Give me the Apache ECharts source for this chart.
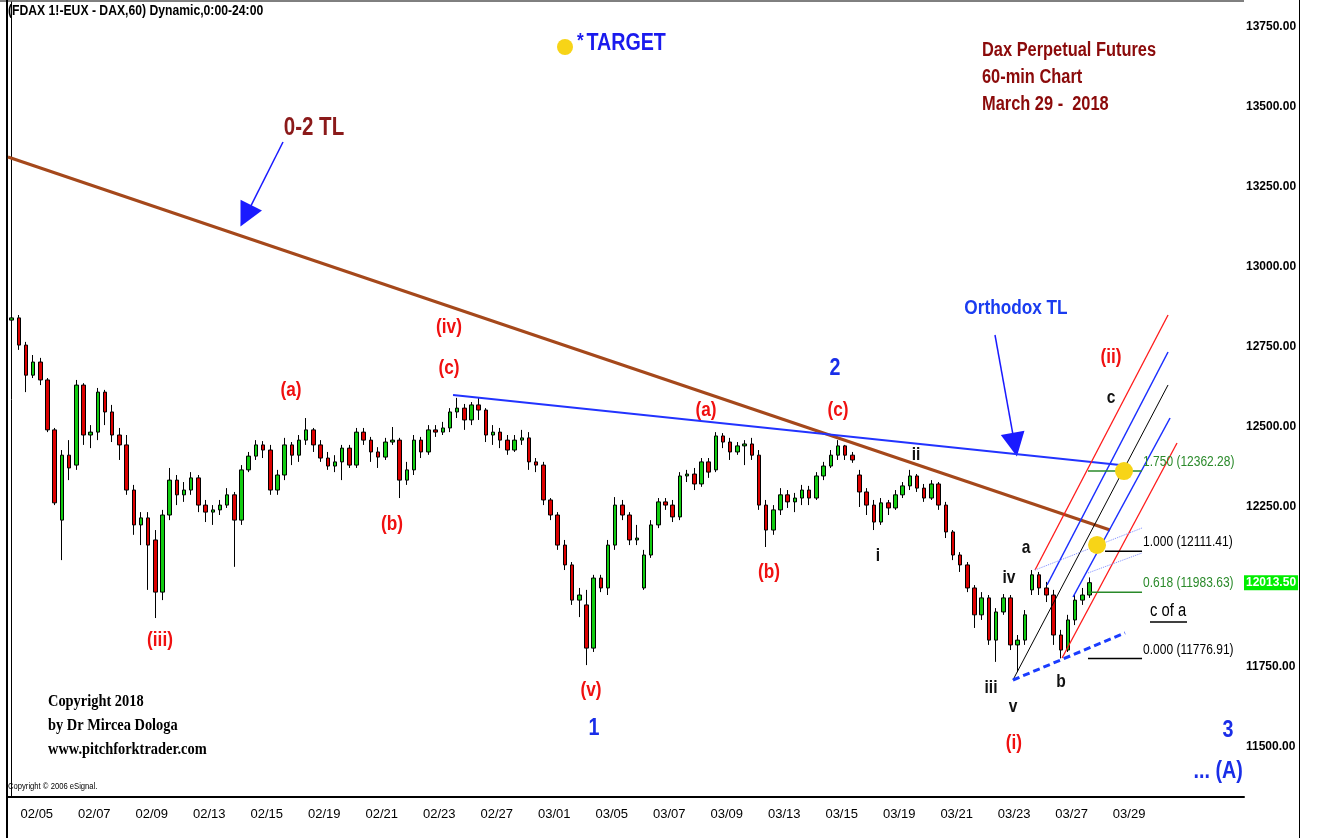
<!DOCTYPE html>
<html>
<head>
<meta charset="utf-8">
<script src="https://cdn.jsdelivr.net/npm/echarts@6.0.0/dist/echarts.min.js"></script>
<style>
  html, body { margin: 0; padding: 0; background: #fff; }
  #chart { width: 1319px; height: 838px; }
</style>
</head>
<body>
<div id="chart"></div>
<script>
  // trading days shown on the axis, 4 hourly blocks per day
  const tradingDays = ['02/02', '02/05', '02/06', '02/07', '02/08', '02/09', '02/12', '02/13', '02/14', '02/15', '02/16',
    '02/19', '02/20', '02/21', '02/22', '02/23', '02/26', '02/27', '02/28', '03/01', '03/02', '03/05', '03/06', '03/07',
    '03/08', '03/09', '03/12', '03/13', '03/14', '03/15', '03/16', '03/19', '03/20', '03/21', '03/22', '03/23', '03/26',
    '03/27', '03/28', '03/29', '04/03', '04/04', '04/05'];
  const barsPerDay = 4;
  const dateTicks = ['02/05', '02/07', '02/09', '02/13', '02/15', '02/19', '02/21', '02/23', '02/27', '03/01', '03/05',
    '03/07', '03/09', '03/13', '03/15', '03/19', '03/21', '03/23', '03/27', '03/29'];
  const priceTicks = [11500, 11750, 12000, 12250, 12500, 12750, 13000, 13250, 13500, 13750];
  const lastPrice = 12013.5;

  // [open, close, low, high]
  const candles = [
    [12834, 12841, 12803, 12881], [12841, 12756, 12741, 12850], [12756, 12662, 12609, 12766], [12662, 12703, 12653, 12725],
    [12703, 12647, 12631, 12716], [12647, 12491, 12484, 12653], [12491, 12263, 12256, 12497], [12209, 12412, 12084, 12428],
    [12412, 12372, 12334, 12459], [12381, 12631, 12366, 12647], [12631, 12475, 12444, 12637], [12475, 12484, 12434, 12506],
    [12484, 12609, 12459, 12622], [12609, 12547, 12506, 12616], [12547, 12475, 12453, 12569], [12475, 12444, 12397, 12497],
    [12444, 12303, 12288, 12475], [12303, 12194, 12163, 12319], [12194, 12216, 12131, 12234], [12216, 12131, 11991, 12234],
    [12147, 11984, 11903, 12178], [11984, 12225, 11959, 12241], [12225, 12334, 12209, 12372], [12334, 12288, 12256, 12350],
    [12288, 12303, 12266, 12328], [12303, 12341, 12288, 12359], [12341, 12256, 12234, 12350], [12256, 12234, 12203, 12272],
    [12234, 12241, 12194, 12256], [12241, 12256, 12225, 12272], [12256, 12288, 12247, 12309], [12288, 12209, 12063, 12297],
    [12209, 12366, 12194, 12381], [12366, 12409, 12359, 12422], [12409, 12444, 12397, 12459], [12444, 12428, 12403, 12456],
    [12428, 12303, 12288, 12444], [12303, 12350, 12288, 12366], [12350, 12444, 12334, 12466], [12444, 12412, 12381, 12453],
    [12412, 12459, 12391, 12475], [12459, 12491, 12444, 12528], [12491, 12444, 12422, 12497], [12444, 12403, 12391, 12459],
    [12403, 12378, 12366, 12422], [12378, 12391, 12359, 12412], [12391, 12434, 12334, 12444], [12434, 12381, 12372, 12444],
    [12381, 12484, 12372, 12497], [12484, 12459, 12444, 12497], [12459, 12422, 12391, 12469], [12422, 12406, 12372, 12437],
    [12406, 12453, 12397, 12466], [12453, 12459, 12444, 12500], [12459, 12334, 12278, 12466], [12334, 12366, 12319, 12391],
    [12366, 12459, 12350, 12475], [12459, 12422, 12403, 12469], [12422, 12491, 12413, 12506], [12491, 12484, 12469, 12506],
    [12484, 12497, 12475, 12516], [12497, 12547, 12484, 12559], [12547, 12559, 12528, 12591], [12559, 12522, 12491, 12572],
    [12522, 12569, 12506, 12578], [12569, 12553, 12522, 12591], [12553, 12475, 12453, 12559], [12475, 12484, 12444, 12506],
    [12484, 12459, 12434, 12497], [12459, 12428, 12413, 12475], [12428, 12459, 12422, 12475], [12459, 12466, 12444, 12491],
    [12466, 12391, 12366, 12484], [12391, 12381, 12359, 12403], [12381, 12272, 12256, 12391], [12272, 12225, 12209, 12278],
    [12225, 12131, 12116, 12234], [12131, 12069, 12053, 12147], [12069, 11959, 11944, 12078], [11959, 11975, 11906, 11997],
    [11944, 11809, 11756, 11991], [11809, 12028, 11797, 12038], [12028, 11997, 11984, 12038], [11997, 12131, 11975, 12147],
    [12131, 12256, 12116, 12281], [12256, 12225, 12209, 12272], [12225, 12147, 12131, 12234], [12147, 12153, 12131, 12194],
    [11997, 12100, 11991, 12116], [12100, 12194, 12091, 12209], [12194, 12266, 12184, 12278], [12266, 12256, 12241, 12278],
    [12256, 12219, 12203, 12272], [12219, 12347, 12209, 12359], [12347, 12353, 12328, 12366], [12353, 12322, 12303, 12372],
    [12322, 12391, 12313, 12403], [12391, 12359, 12341, 12403], [12366, 12472, 12359, 12484], [12472, 12453, 12434, 12481],
    [12453, 12422, 12397, 12466], [12422, 12441, 12413, 12453], [12441, 12447, 12381, 12459], [12447, 12412, 12397, 12466],
    [12412, 12256, 12241, 12428], [12256, 12178, 12125, 12272], [12178, 12241, 12163, 12256], [12241, 12288, 12225, 12309],
    [12288, 12266, 12247, 12303], [12266, 12278, 12234, 12294], [12278, 12303, 12256, 12319], [12303, 12278, 12256, 12316],
    [12278, 12347, 12272, 12359], [12347, 12378, 12334, 12391], [12378, 12412, 12372, 12428], [12412, 12441, 12397, 12459],
    [12441, 12412, 12397, 12444], [12412, 12397, 12388, 12422], [12350, 12297, 12250, 12366], [12297, 12256, 12225, 12309],
    [12256, 12203, 12178, 12272], [12203, 12263, 12194, 12278], [12263, 12247, 12225, 12272], [12247, 12288, 12241, 12303],
    [12288, 12316, 12278, 12328], [12316, 12347, 12303, 12366], [12347, 12309, 12297, 12353], [12309, 12278, 12266, 12322],
    [12278, 12322, 12272, 12334], [12322, 12256, 12241, 12328], [12256, 12172, 12153, 12266], [12172, 12100, 12084, 12178],
    [12100, 12069, 12047, 12109], [12069, 11997, 11984, 12078], [11997, 11913, 11872, 12006], [11913, 11966, 11897, 11984],
    [11966, 11834, 11819, 11975], [11834, 11922, 11766, 11934], [11922, 11966, 11913, 11978], [11966, 11819, 11803, 11975],
    [11819, 11834, 11734, 11850], [11834, 11913, 11819, 11928], [11991, 12038, 11975, 12053], [12038, 11997, 11975, 12047],
    [11997, 11975, 11953, 12016], [11975, 11850, 11819, 11991], [11850, 11803, 11777, 11866], [11803, 11897, 11797, 11913],
    [11897, 11959, 11881, 11975], [11959, 11975, 11944, 11997], [11975, 12013.5, 11966, 12030]
  ];

  // drawn lines, [bar position, price] ends
  const tl02 = [[-0.5, 13343.8], [152.86, 12178.1]];
  const orthodoxTl = [[61.43, 12600], [154.25, 12381.3]];
  const medianLine = [[139.35, 11709.4], [160.93, 12631.3]];
  const redUpper = [[142.42, 12053.1], [160.93, 12850]];
  const redLower = [[146.18, 11778.1], [162.18, 12450]];
  const blueUpper = [[144.09, 12006.3], [160.93, 12734.4]];
  const blueLower = [[147.71, 11968.8], [161.21, 12528.1]];
  const dottedUpper = [[142.42, 12053.1], [157.31, 12184.4]];
  const dottedLower = [[149.79, 12043.8], [157.31, 12106.3]];
  const dashedBase = [[139.35, 11709.4], [154.94, 11856.3]];
  const arrowTl = [[37.77, 13390.6], [32.6, 13160]];
  const arrowOrthodox = [[136.85, 12787.5], [139.6, 12445]];

  const fibRatios = ['1.750', '1.000', '0.618', '0.000'];
  const fibPrices = [12362.28, 12111.41, 11983.63, 11776.91];
  const fibStart = [149.79, 152.16, 149.79, 149.79];
  const fibColors = ['#2a8a2a', '#000000', '#2a8a2a', '#000000'];
  const fibEnd = 157.31;
  const fibLabelX = 157.45;

  const targetDots = [[154.8, 12362.28], [151.05, 12131.3]];

  const redLabels = [['(iii)', 20.65, 11834], ['(a)', 38.88, 12616], ['(b)', 52.94, 12197], ['(iv)', 60.87, 12812],
    ['(c)', 60.87, 12684], ['(v)', 80.63, 11678], ['(a)', 96.63, 12553], ['(b)', 105.4, 12047], ['(c)', 115.0, 12553],
    ['(i)', 139.49, 11512], ['(ii)', 153.0, 12719]];
  const blueLabels = [['1', 81.05, 11559], ['2', 114.58, 12684], ['3', 169.28, 11553], ['... (A)', 167.9, 11425]];
  const blackLabels = [['ii', 125.86, 12412], ['i', 120.57, 12097], ['iii', 136.29, 11684], ['iv', 138.8, 12028],
    ['v', 139.35, 11625], ['a', 141.16, 12122], ['b', 146.03, 11703], ['c', 153.0, 12591]];

  const sans = "'Liberation Sans', Arial, sans-serif";

  const categories = [];
  tradingDays.forEach(d => {
    for (let h = 0; h < barsPerDay; h++) categories.push(d + ' ' + h);
  });

  function lineSeries(data, color, width, type) {
    return {
      type: 'line', xAxisIndex: 1, yAxisIndex: 0, data: data, symbol: 'none', silent: true, z: 5,
      lineStyle: {color: color, width: width, type: type || 'solid'}
    };
  }

  // text annotations, drawn narrow like the original chart font
  const notes = [];
  function note(t, x, y, color, size, opts) {
    notes.push(Object.assign({text: t, x: x, y: y, color: color, size: size, bold: true, align: 'center', dy: 0, sx: 0.82}, opts || {}));
  }
  redLabels.forEach(([t, x, y]) => note(t, x, y, '#f01010', 21));
  blueLabels.forEach(([t, x, y]) => note(t, x, y, '#1a2ee8', 24));
  blackLabels.forEach(([t, x, y]) => note(t, x, y, '#111', 19));
  note('0-2 TL', 42.08, 13434, '#8b1a1a', 25);
  note('Orthodox TL', 139.77, 12872, '#1a3cf0', 21);
  note('c of a', 158.42, 11925, '#000', 18, {align: 'left', bold: false});
  fibRatios.forEach((r, i) => {
    note(r + ' (' + fibPrices[i].toFixed(2) + ')', fibLabelX, fibPrices[i], fibColors[i], 15,
      {align: 'left', bold: false, dy: -9, sx: 0.8});
  });

  const series = [
    {
      type: 'candlestick',
      data: candles,
      barWidth: 4,
      z: 3,
      itemStyle: {color: '#11cc11', color0: '#dd0000', borderColor: '#000', borderColor0: '#000', borderWidth: 1},
      markLine: {
        silent: true, symbol: 'none', lineStyle: {color: 'rgba(0,0,0,0)', width: 0},
        data: [{yAxis: lastPrice}],
        label: {
          show: true, position: 'end', formatter: lastPrice.toFixed(2), backgroundColor: '#00ee00', color: '#fff',
          fontWeight: 'bold', fontSize: 12, fontFamily: sans, padding: [2, 2, 1, 2], distance: 0
        }
      }
    },
    lineSeries(tl02, '#a5481b', 3),
    lineSeries(orthodoxTl, '#2233ff', 2),
    lineSeries(medianLine, '#000', 1),
    lineSeries(redUpper, '#ff1a1a', 1.3),
    lineSeries(redLower, '#ff1a1a', 1.3),
    lineSeries(blueUpper, '#1a2eff', 1.5),
    lineSeries(blueLower, '#1a2eff', 1.5),
    lineSeries(dottedUpper, '#7d8cff', 1, 'dotted'),
    lineSeries(dottedLower, '#7d8cff', 1, 'dotted'),
    lineSeries(dashedBase, '#1a3cff', 3, [7, 4]),
    lineSeries([[158.42, 11890.6], [163.57, 11890.6]], '#000', 1.5)
  ];
  fibPrices.forEach((p, i) => series.push(lineSeries([[fibStart[i], p], [fibEnd, p]], fibColors[i], 1.5)));
  series.push({
    type: 'line', xAxisIndex: 1, data: [], silent: true,
    markLine: {
      silent: true, symbol: ['none', 'triangle'], symbolSize: 24,
      lineStyle: {color: '#1a1aff', width: 1.5, type: 'solid'}, label: {show: false},
      data: [
        [{coord: arrowTl[0]}, {coord: arrowTl[1]}],
        [{coord: arrowOrthodox[0]}, {coord: arrowOrthodox[1]}]
      ]
    }
  });
  series.push({
    type: 'scatter', xAxisIndex: 1, data: targetDots, symbol: 'circle', symbolSize: 18, silent: true, z: 8,
    itemStyle: {color: '#f7d417', opacity: 1}
  });
  series.push({
    type: 'custom', xAxisIndex: 1, yAxisIndex: 0, silent: true, z: 10, clip: false,
    data: notes.map(n => [n.x, n.y]),
    renderItem: function (params, api) {
      const n = notes[params.dataIndex];
      const pt = api.coord([api.value(0), api.value(1)]);
      return {
        type: 'text', x: pt[0], y: pt[1] + n.dy, scaleX: n.sx,
        style: {
          text: n.text, fill: n.color, align: n.align, verticalAlign: 'middle',
          font: (n.bold ? 'bold ' : '') + n.size + 'px ' + sans
        }
      };
    }
  });

  const chart = echarts.init(document.getElementById('chart'), null, {renderer: 'canvas'});
  chart.setOption({
    animation: false,
    backgroundColor: '#fff',
    grid: {left: 8, right: 75, top: 2, bottom: 41, containLabel: false},
    xAxis: [
      {
        type: 'category', data: categories, boundaryGap: true,
        axisLine: {lineStyle: {color: '#000', width: 2}},
        axisTick: {show: false},
        splitLine: {show: false},
        axisLabel: {
          interval: (idx, val) => idx % barsPerDay === 0 && dateTicks.includes(val.split(' ')[0]),
          formatter: v => v.split(' ')[0],
          color: '#000', fontSize: 13, fontFamily: sans, margin: 11, padding: [0, 7, 0, 0]
        }
      },
      {type: 'value', min: -0.5, max: categories.length - 0.5, show: false}
    ],
    yAxis: {
      type: 'value', position: 'right', min: 11343.75, max: 13828.125, scale: true,
      axisLine: {show: true, lineStyle: {color: '#000', width: 1}},
      axisTick: {show: false},
      splitLine: {show: false},
      axisLabel: {
        customValues: priceTicks, formatter: v => v.toFixed(2), color: '#000', fontSize: 12, fontWeight: 'bold',
        fontFamily: sans, margin: 2
      }
    },
    graphic: [
      {type: 'line', shape: {x1: 7, y1: 0, x2: 7, y2: 838}, style: {stroke: '#000', lineWidth: 2}},
      {type: 'line', shape: {x1: 0, y1: 1, x2: 1244, y2: 1}, style: {stroke: '#000', lineWidth: 1}},
      {type: 'line', shape: {x1: 1299.5, y1: 0, x2: 1299.5, y2: 838}, style: {stroke: '#000', lineWidth: 1}},
      {
        type: 'text', x: 8, y: 4, scaleX: 0.87,
        style: {text: '(FDAX 1!-EUX - DAX,60) Dynamic,0:00-24:00', fill: '#000', font: 'bold 14px ' + sans}
      },
      {type: 'circle', shape: {cx: 565, cy: 47, r: 8}, style: {fill: '#f7d417'}},
      {
        type: 'text', x: 577, y: 31, scaleX: 0.82,
        style: {
          text: '{s|*} {t|TARGET}', fill: '#1a1aee',
          rich: {
            s: {font: 'bold 21px ' + sans, fill: '#1a1aee', verticalAlign: 'top'},
            t: {font: 'bold 24px ' + sans, fill: '#1a1aee'}
          }
        }
      },
      {
        type: 'text', x: 982, y: 37, scaleX: 0.82,
        style: {
          text: 'Dax Perpetual Futures\n60-min Chart\nMarch 29 -  2018', fill: '#8b0a0a',
          font: 'bold 20px ' + sans, lineHeight: 27
        }
      },
      {
        type: 'text', x: 48, y: 690, scaleX: 0.9,
        style: {
          text: 'Copyright 2018\nby Dr Mircea Dologa\nwww.pitchforktrader.com', fill: '#000',
          font: "bold 16px 'Liberation Serif', 'Times New Roman', serif", lineHeight: 24
        }
      },
      {
        type: 'text', x: 8, y: 782, scaleX: 0.85,
        style: {text: 'Copyright © 2006 eSignal.', fill: '#000', font: '9px ' + sans}
      }
    ],
    series: series
  });
</script>
</body>
</html>
